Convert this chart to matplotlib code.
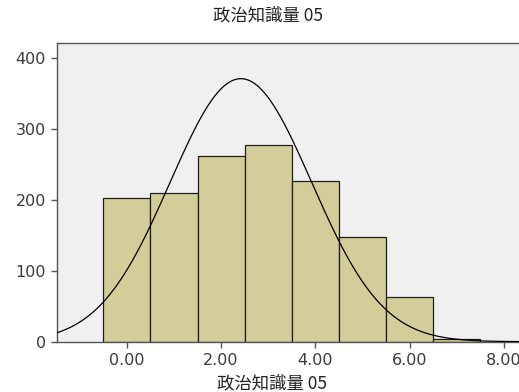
import matplotlib
matplotlib.use("Agg")
import matplotlib.pyplot as plt
import numpy as np

# histogram of 政治知識量 05 (bins of width 1 centred on 0..7)
bin_centers = [0, 1, 2, 3, 4, 5, 6, 7]
counts = [203, 210, 262, 277, 227, 147, 63, 4]

# normal curve parameters
curve_mean = 2.42
curve_sd = 1.50

title_text = "政治知識量 05"
xtick_vals = [0, 2, 4, 6, 8]
xtick_labels = ["0.00", "2.00", "4.00", "6.00", "8.00"]
ytick_vals = [0, 100, 200, 300, 400]

plt.rcParams['font.family'] = ['Noto Sans CJK JP', 'DejaVu Sans']

fig = plt.figure(figsize=(5.19, 3.92), dpi=100)
fig.patch.set_facecolor("white")

# axes runs a little past the right edge of the figure
x0, x1 = -1.48, 8.5
px_per_unit = 47.15
left_px, bottom_px, top_px = 57, 341.7, 43
width_px = (x1 - x0) * px_per_unit
ax = fig.add_axes([left_px / 519, 1 - bottom_px / 392, width_px / 519, (bottom_px - top_px) / 392])
ax.set_facecolor("#f0f0f0")

ax.bar(bin_centers, counts, width=1.0, color="#d3ce99", edgecolor="#1e1e1e", linewidth=0.9, zorder=2)

n_total = sum(counts)
xs = np.linspace(x0, x1, 400)
ys = n_total * 1.0 / (curve_sd * np.sqrt(2 * np.pi)) * np.exp(-(xs - curve_mean) ** 2 / (2 * curve_sd ** 2))
ax.plot(xs, ys, color="black", linewidth=0.9, zorder=3)

ax.set_xlim(x0, x1)
ax.set_ylim(0, 420.7)
ax.set_xticks(xtick_vals)
ax.set_xticklabels(xtick_labels)
ax.set_yticks(ytick_vals)

for sp in ax.spines.values():
    sp.set_color("#555555")
    sp.set_linewidth(1.0)

ax.tick_params(axis="both", direction="out", length=4, width=1, color="#555555",
               labelcolor="#3a3a3a", labelsize=11.5, pad=4)
for lab in ax.get_xticklabels() + ax.get_yticklabels():
    lab.set_family("DejaVu Sans")

fig.text(268 / 519, 1 - 16 / 392, title_text, ha="center", va="center", fontsize=12.5, color="#222222")
fig.text(272 / 519, 1 - 384 / 392, title_text, ha="center", va="center", fontsize=12.5, color="#222222")

fig.savefig("out.png", dpi=100)
